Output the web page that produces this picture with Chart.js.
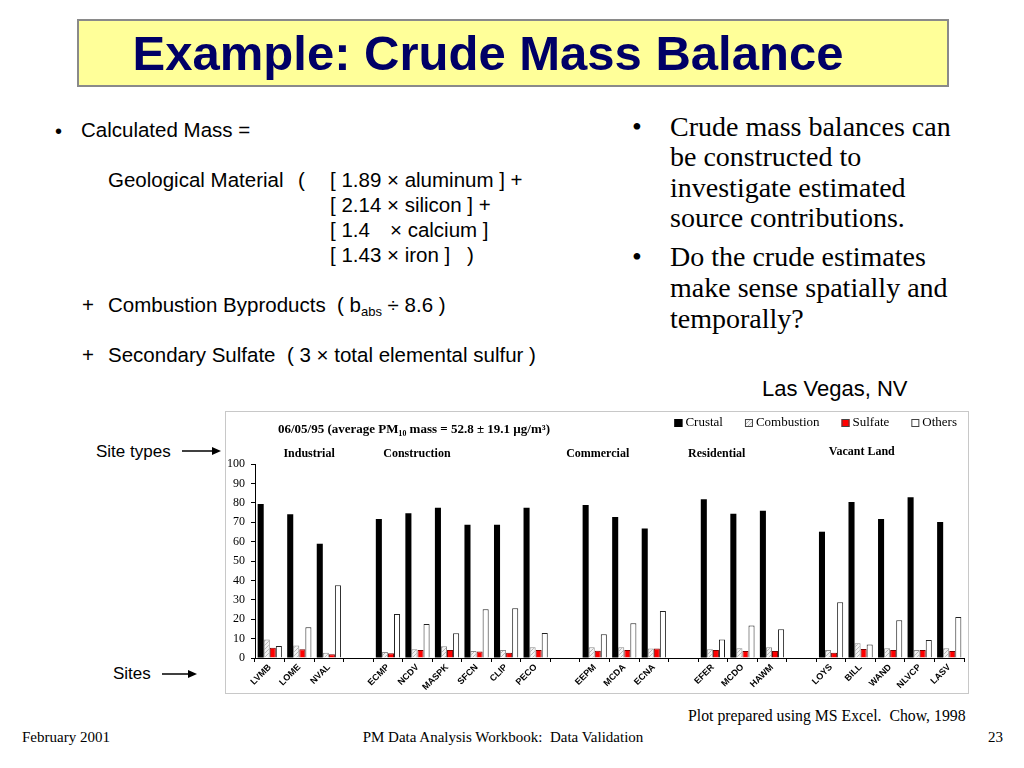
<!DOCTYPE html>
<html>
<head>
<meta charset="utf-8">
<script src="https://cdn.jsdelivr.net/npm/chart.js@4.4.0/dist/chart.umd.min.js"></script>
<style>
  body { margin: 0; background: #fff; width: 1024px; height: 768px; overflow: hidden; position: relative; }
  #slide { position: absolute; left: 0; top: 0; }
  #slide text { white-space: pre; }
  .sans { font-family: "Liberation Sans", Arial, sans-serif; }
  .serif { font-family: "Liberation Serif", "Times New Roman", serif; }
  #frame { position: absolute; left: 225px; top: 411px; width: 742px; height: 281px; border: 1px solid #c8c8c8; background: #fff; }
  #chart { position: absolute; left: 226px; top: 412px; }
</style>
</head>
<body>
<svg id="slide" width="1024" height="768">
  <rect x="78" y="20" width="870" height="66" fill="#ffff99" stroke="#8a8a8a" stroke-width="2"/>
  <text class="sans" x="488" y="70" text-anchor="middle" font-size="49" font-weight="bold" fill="#000066">Example: Crude Mass Balance</text>

  <g class="sans" font-size="20.5" fill="#000">
    <text x="55" y="138" font-size="20">•</text>
    <text x="81" y="137">Calculated Mass =</text>
    <text x="108" y="187">Geological Material</text>
    <text x="298" y="187">(</text>
    <text x="330" y="187">[ 1.89 × aluminum ] +</text>
    <text x="330" y="212">[ 2.14 × silicon ] +</text>
    <text x="330" y="237">[ 1.4</text>
    <text x="390" y="237">× calcium ]</text>
    <text x="330" y="262">[ 1.43 × iron ]</text>
    <text x="467" y="262">)</text>
    <text x="82" y="312">+</text>
    <text x="108" y="312">Combustion Byproducts  ( b<tspan font-size="13" dy="4">abs</tspan><tspan dy="-4"> ÷ 8.6 )</tspan></text>
    <text x="82" y="362">+</text>
    <text x="108" y="362">Secondary Sulfate  ( 3 × total elemental sulfur )</text>
  </g>

  <g class="serif" font-size="28" fill="#000">
    <text x="632" y="136">•</text>
    <text x="670" y="136">Crude mass balances can</text>
    <text x="670" y="166">be constructed to</text>
    <text x="670" y="197">investigate estimated</text>
    <text x="670" y="227">source contributions.</text>
    <text x="632" y="266">•</text>
    <text x="670" y="266">Do the crude estimates</text>
    <text x="670" y="297">make sense spatially and</text>
    <text x="670" y="328">temporally?</text>
  </g>

  <text class="sans" x="762" y="396" font-size="22">Las Vegas, NV</text>

  <text class="sans" x="96" y="457" font-size="17">Site types</text>
  <line x1="182" y1="451" x2="214" y2="451" stroke="#000" stroke-width="1.5"/>
  <polygon points="212,447 221,451 212,455" fill="#000"/>
  <text class="sans" x="113" y="679" font-size="17">Sites</text>
  <line x1="162" y1="674" x2="190" y2="674" stroke="#000" stroke-width="1.5"/>
  <polygon points="188,670 197,674 188,678" fill="#000"/>

  <g class="serif" fill="#000">
    <text x="688" y="721" font-size="15.8">Plot prepared using MS Excel.  Chow, 1998</text>
    <text x="22" y="742" font-size="15">February 2001</text>
    <text x="503" y="742" font-size="15" text-anchor="middle">PM Data Analysis Workbook:  Data Validation</text>
    <text x="988" y="742" font-size="15">23</text>
  </g>
</svg>
<div id="frame"></div>
<canvas id="chart" width="741" height="280"></canvas>
<script>
// sites along the x axis, '' marks the empty slot between site types
const sites = ['LVMB', 'LOME', 'NVAL', '',
  'ECMP', 'NCDV', 'MASPK', 'SFCN', 'CLIP', 'PECO', '',
  'EEPM', 'MCDA', 'ECNA', '',
  'EFER', 'MCDO', 'HAWM', '',
  'LOYS', 'BILL', 'WAND', 'NLVCP', 'LASV'];

const crustal    = [79.4, 74.1, 58.9, null, 71.6, 74.6, 77.5, 68.7, 68.7, 77.5, null, 78.9, 72.7, 66.7, null, 81.8, 74.4, 75.9, null, 65.1, 80.4, 71.6, 82.8, 70.1];
const combustion = [9.6, 6.5, 2.7, null, 3.1, 4.5, 6.0, 3.6, 4.1, 5.5, null, 5.5, 5.5, 4.9, null, 4.5, 5.0, 5.5, null, 4.1, 7.6, 5.0, 4.1, 5.0];
const sulfate    = [5.3, 4.5, 1.9, null, 2.4, 4.1, 4.1, 3.3, 2.7, 4.1, null, 3.8, 4.1, 4.9, null, 4.1, 3.6, 3.6, null, 2.7, 4.6, 4.1, 4.1, 3.6];
const others     = [6.2, 15.8, 37.5, null, 22.7, 17.5, 12.7, 25.1, 25.6, 12.9, null, 12.2, 17.9, 24.2, null, 9.6, 16.8, 14.8, null, 28.7, 7.0, 19.4, 9.3, 21.1];

const yTicks = [0, 10, 20, 30, 40, 50, 60, 70, 80, 90, 100];
const siteTypes = ['Industrial', 'Construction', 'Commercial', 'Residential', 'Vacant Land'];
// where each site type caption sits, in category units
const siteTypeAt = [1.33, 4.98, 11.1, 15.13, 20.04];
const chartTitle = '06/05/95 (average PM\u2081\u2080 mass = 52.8 \u00b1 19.1 \u00b5g/m\u00b3)';

const canvas = document.getElementById('chart');
const ctx = canvas.getContext('2d');

// light diagonal hatch for the combustion bars
const tile = document.createElement('canvas');
tile.width = 4; tile.height = 4;
const t = tile.getContext('2d');
t.fillStyle = '#f4f4f4';
t.fillRect(0, 0, 4, 4);
t.strokeStyle = '#b8b8b8';
t.beginPath(); t.moveTo(0, 4); t.lineTo(4, 0); t.stroke();
const hatch = ctx.createPattern(tile, 'repeat');

const annotations = {
  id: 'annotations',
  afterDraw(chart) {
    const c = chart.ctx;
    const x = chart.scales.x;
    c.save();
    c.fillStyle = '#000';
    c.textBaseline = 'middle';

    c.font = 'bold 13px "Liberation Serif"';
    c.textAlign = 'left';
    c.fillText(chartTitle, 52, 18);

    c.font = 'bold 12px "Liberation Serif"';
    c.textAlign = 'center';
    siteTypes.forEach((name, i) => {
      c.fillText(name, x.getPixelForValue(siteTypeAt[i]), i === 4 ? 40 : 42);
    });

    // legend
    c.font = '13px "Liberation Serif"';
    c.textAlign = 'left';
    const items = chart.data.datasets;
    const widths = items.map(d => 11 + c.measureText(d.label).width);
    const gap = 22;
    let px = chart.width - 10 - widths.reduce((a, b) => a + b, 0) - gap * (items.length - 1);
    items.forEach((d, i) => {
      c.fillStyle = d.backgroundColor;
      c.fillRect(px, 7, 8, 8);
      c.strokeStyle = i === 0 ? '#000' : '#444';
      c.lineWidth = 1;
      c.strokeRect(px + 0.5, 7.5, 7, 7);
      c.fillStyle = '#000';
      c.fillText(d.label, px + 11, 11);
      px += widths[i] + gap;
    });
    c.restore();
  }
};

new Chart(canvas, {
  type: 'bar',
  data: {
    labels: sites,
    datasets: [
      { label: 'Crustal', data: crustal, backgroundColor: '#000', borderWidth: 0 },
      { label: 'Combustion', data: combustion, backgroundColor: hatch, borderColor: '#8c8c8c', borderWidth: 1 },
      { label: 'Sulfate', data: sulfate, backgroundColor: '#ff0000', borderColor: '#7a0000', borderWidth: 1 },
      { label: 'Others', data: others, backgroundColor: '#fff', borderColor: '#222', borderWidth: 1 }
    ]
  },
  options: {
    responsive: false,
    animation: false,
    devicePixelRatio: 1,
    layout: { padding: { top: 52, right: 3, left: 0, bottom: 0 } },
    datasets: { bar: { categoryPercentage: 0.82, barPercentage: 1 } },
    plugins: { legend: { display: false }, tooltip: { enabled: false } },
    scales: {
      x: {
        grid: { drawOnChartArea: false, tickLength: 4, color: '#000', offset: true },
        border: { color: '#000' },
        ticks: {
          autoSkip: false, minRotation: 45, maxRotation: 45, padding: 0, color: '#000',
          font: { family: 'Liberation Sans', size: 9, weight: 'bold' }
        },
        afterFit(scale) { scale.height = 34; }
      },
      y: {
        min: 0, max: 100,
        afterBuildTicks(scale) { scale.ticks = yTicks.map(v => ({ value: v })); },
        grid: { drawOnChartArea: false, tickLength: 4, color: '#000' },
        border: { color: '#000' },
        ticks: { padding: 6, color: '#000', font: { family: 'Liberation Serif', size: 12 } },
        afterFit(scale) { scale.width = 29; }
      }
    }
  },
  plugins: [annotations]
});
</script>
</body>
</html>
